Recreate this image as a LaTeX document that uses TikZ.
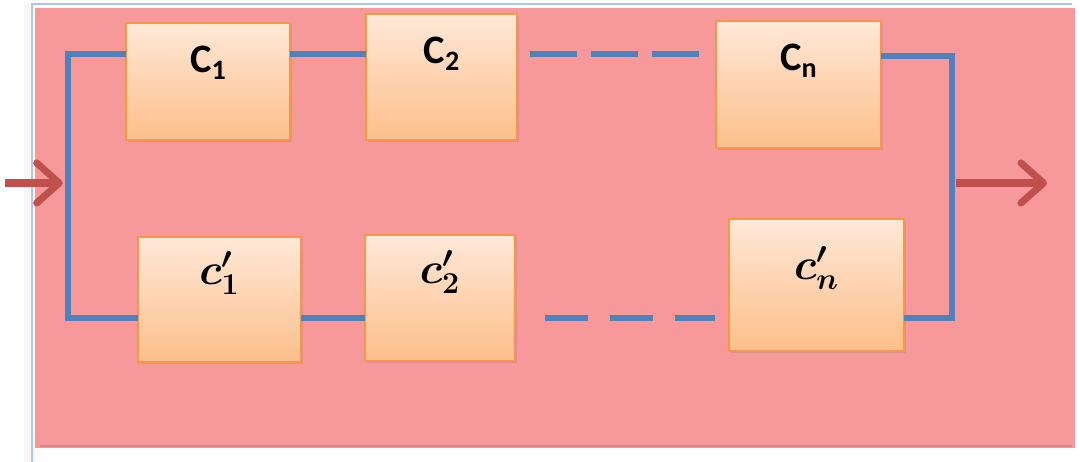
\documentclass[tikz,border=0pt]{standalone}
\usepackage{fontspec}
\usepackage{bm}
\newfontfamily\calfont{Carlito}
\usetikzlibrary{arrows.meta,shadows}

\definecolor{bgpink}{RGB}{247,153,154}
\definecolor{wireblue}{RGB}{79,129,189}
\definecolor{arrowred}{RGB}{192,80,77}
\definecolor{boxedge}{RGB}{247,150,70}
\definecolor{boxtop}{RGB}{255,232,216}
\definecolor{boxbot}{RGB}{252,191,138}
\definecolor{frameblue}{RGB}{170,200,240}

\newcommand{\lowidx}[1]{\raisebox{-0.35ex}{\fontsize{16}{18}\selectfont #1}}
\newcommand{\cname}[1]{{\calfont\bfseries\fontsize{23}{26}\selectfont C\lowidx{#1}}}
\newcommand{\cprime}[1]{{\fontsize{25}{28}\selectfont$\bm{c'_{#1}}$}}

\tikzset{
  block/.style={draw=boxedge,line width=1.1pt,top color=boxtop,bottom color=boxbot,
    anchor=north west,inner sep=0pt,outer sep=0pt,
    drop shadow={opacity=0.25,shadow xshift=0.04cm,shadow yshift=-0.05cm}},
  caption/.style={anchor=north,inner sep=0pt,yshift=-#1},
  wire/.style={draw=wireblue,line width=3.3pt},
  gap top/.style={dash pattern=on 0.95cm off 0.27cm,shorten <=0.26cm,shorten >=0.32cm},
  gap bottom/.style={dash pattern=on 0.86cm off 0.44cm,shorten <=0.6cm,shorten >=0.28cm},
  flow/.style={draw=arrowred,line width=4pt,-{Straight Barb[length=4.5mm,width=8mm,round]}}
}

\begin{document}
\begin{tikzpicture}[x=0.02cm,y=-0.02cm]
		\useasboundingbox (0,0) rectangle (1080,462);
		
		% background sheet
		\fill[bgpink!12] (24,4) rectangle (35,462);
		\fill[bgpink] (35,8) rectangle (1075,448);
		\draw[bgpink!60!black,line width=1.5pt,opacity=0.3] (40,446) -- (1072,446);
		\draw[frameblue,line width=0.7pt] (32,462) -- (32,4) -- (1072,4);
		
		% upper chain
		\node[block,minimum width=3.28cm,minimum height=2.34cm,
		      label={[caption=0.46cm]north:\cname{1}}] (C1) at (126,23) {};
		\node[block,minimum width=3.02cm,minimum height=2.52cm,
		      label={[caption=0.46cm]north:\cname{2}}] (C2) at (366,14) {};
		\node[block,minimum width=3.30cm,minimum height=2.54cm,
		      label={[caption=0.46cm]north:\cname{n}}] (Cn) at (716,21) {};
		
		% lower chain
		\node[block,minimum width=3.26cm,minimum height=2.50cm,
		      label={[caption=0.28cm]north:\cprime{1}}] (c1p) at (138,237) {};
		\node[block,minimum width=3.00cm,minimum height=2.52cm,
		      label={[caption=0.3cm]north:\cprime{2}}] (c2p) at (365,235) {};
		\node[block,minimum width=3.50cm,minimum height=2.64cm,
		      label={[caption=0.54cm]north:\cprime{n}}] (cnp) at (729,219) {};
		
		% corners of the two branches
		\coordinate (inl) at (68,54);
		\coordinate (outl) at (68,318);
		\coordinate (inr) at (952,56);
		\coordinate (outr) at (952,318);
		\coordinate (src) at (5,183);
		\coordinate (sink) at (1047,183);
		
		% wires
		\draw[wire] (C1.west |- inl) -- (inl) -- (outl) -- (c1p.west |- outl);
		\draw[wire] (C1.east |- inl) -- (C2.west |- inl);
		\draw[wire,gap top] (C2.east |- inl) -- (Cn.west |- inl);
		\draw[wire] (Cn.east |- inr) -- (inr) -- (outr) -- (cnp.east |- outr);
		\draw[wire] (c1p.east |- outl) -- (c2p.west |- outl);
		\draw[wire,gap bottom] (c2p.east |- outl) -- (cnp.west |- outl);
		
		% input and output
		\draw[flow,shorten >=3pt] (src) -- (inl |- src);
		\draw[flow] ([xshift=2pt]outr |- sink) -- (sink);
	\end{tikzpicture}
\end{document}
